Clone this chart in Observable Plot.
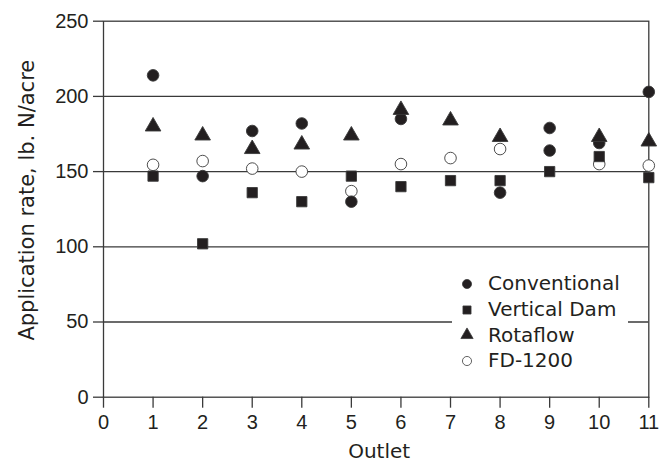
<!DOCTYPE html>
<html>
<head>
<meta charset="utf-8">
<script src="https://cdn.jsdelivr.net/npm/d3@7"></script>
<script src="https://cdn.jsdelivr.net/npm/@observablehq/plot@0.6"></script>
<style>
  html, body { margin: 0; padding: 0; background: #fff; }
  #wrap { position: relative; width: 671px; height: 462px; }
  #legend {
    position: absolute; left: 452px; top: 270px; width: 176px; height: 104px;
    background: #fff; box-sizing: border-box; padding-left: 8px; padding-top: 1px;
  }
  #legend .lg-swatches { margin: 0 !important; min-height: 0 !important; }
  #legend .lg-swatch { height: 25.8px !important; padding: 0 !important; margin: 0 !important;
    display: flex !important; align-items: center !important; }
  #legend .lg-swatch svg { margin-right: 14px !important; }
  #legend .lg-swatch, #legend .lg-swatch-label {
    font-family: "DejaVu Sans", sans-serif !important; font-size: 20px !important;
    color: #231f20 !important; line-height: 25.8px !important; overflow: visible !important;
  }
</style>
</head>
<body>
<div id="wrap"><div id="legend"></div></div>
<script>
// ---- data ----
const outletTicks = [0, 1, 2, 3, 4, 5, 6, 7, 8, 9, 10, 11];
const rateTicks = [0, 50, 100, 150, 200, 250];
const gridValues = [50, 100, 150, 200];
const seriesNames = ["Conventional", "Vertical Dam", "Rotaflow", "FD-1200"];
const xLabel = "Outlet";
const yLabel = "Application rate, lb. N/acre";

const conventionalOutlet = [1, 2, 3, 4, 5, 6, 8, 9, 9, 10, 11];
const conventional       = [214, 147, 177, 182, 130, 185, 136, 179, 164, 169, 203];

const verticalDamOutlet = [1, 2, 3, 4, 5, 6, 7, 8, 9, 10, 11];
const verticalDam       = [147, 102, 136, 130, 147, 140, 144, 144, 150, 160, 146];

const rotaflowOutlet = [1, 2, 3, 4, 5, 6, 7, 8, 10, 11];
const rotaflow       = [180, 174, 165, 168, 174, 191, 184, 173, 173, 170];

const fd1200Outlet = [1, 2, 3, 4, 5, 6, 7, 8, 10, 11];
const fd1200       = [154.5, 157, 152, 150, 137, 155, 159, 165, 155, 154];

// draw order: open circles first, then filled circles, squares, triangles
const rows = [
  ...fd1200Outlet.map((o, i) => ({outlet: o, value: fd1200[i], series: "FD-1200"})),
  ...conventionalOutlet.map((o, i) => ({outlet: o, value: conventional[i], series: "Conventional"})),
  ...verticalDamOutlet.map((o, i) => ({outlet: o, value: verticalDam[i], series: "Vertical Dam"})),
  ...rotaflowOutlet.map((o, i) => ({outlet: o, value: rotaflow[i], series: "Rotaflow"}))
];

const ink = "#231f20";
const lineInk = "#3a3a3a";

const plot = Plot.plot({
  width: 671,
  height: 462,
  marginLeft: 103,
  marginRight: 22.7,
  marginTop: 20.7,
  marginBottom: 65.3,
  style: {fontFamily: "'Liberation Sans', Arial, sans-serif", fontSize: "20px", color: ink, background: "#fff", overflow: "visible"},
  x: {domain: [0, 11], label: null},
  y: {domain: [0, 250], label: null},
  symbol: {domain: seriesNames, range: ["circle", "square", "triangle", "circle"]},
  color: {domain: seriesNames, range: [ink, ink, ink, "#ffffff"]},
  marks: [
    Plot.gridY(gridValues, {stroke: lineInk, strokeOpacity: 1, strokeWidth: 1.3}),
    Plot.frame({stroke: lineInk, strokeWidth: 1.3}),
    Plot.axisY(rateTicks, {tickSize: 10, tickPadding: 5, stroke: lineInk, strokeWidth: 1.3, fill: ink, label: null}),
    Plot.axisX(outletTicks, {tickSize: 11, tickPadding: 7, stroke: lineInk, strokeWidth: 1.3, fill: ink, label: null}),
    Plot.dot(rows, {x: "outlet", y: "value", symbol: "series", fill: "series", stroke: lineInk, strokeWidth: 0.9, r: 5.8}),
    Plot.text([xLabel], {frameAnchor: "bottom", textAnchor: "middle", lineAnchor: "bottom", dy: 61, dx: 3, text: d => d,
      fontFamily: "DejaVu Sans, sans-serif", fontSize: 20, fill: ink}),
    Plot.text([yLabel], {frameAnchor: "left", rotate: -90, textAnchor: "middle", lineAnchor: "bottom", dx: -70, dy: -9, text: d => d,
      fontFamily: "DejaVu Sans, sans-serif", fontSize: 21, fill: ink, style: "letter-spacing:1.5px"})
  ]
});

document.getElementById("wrap").prepend(plot);

const legend = plot.legend("symbol", {columns: 1, className: "lg", r: 5.2, strokeWidth: 0.9, swatchSize: 14});
document.getElementById("legend").appendChild(legend);
</script>
</body>
</html>
